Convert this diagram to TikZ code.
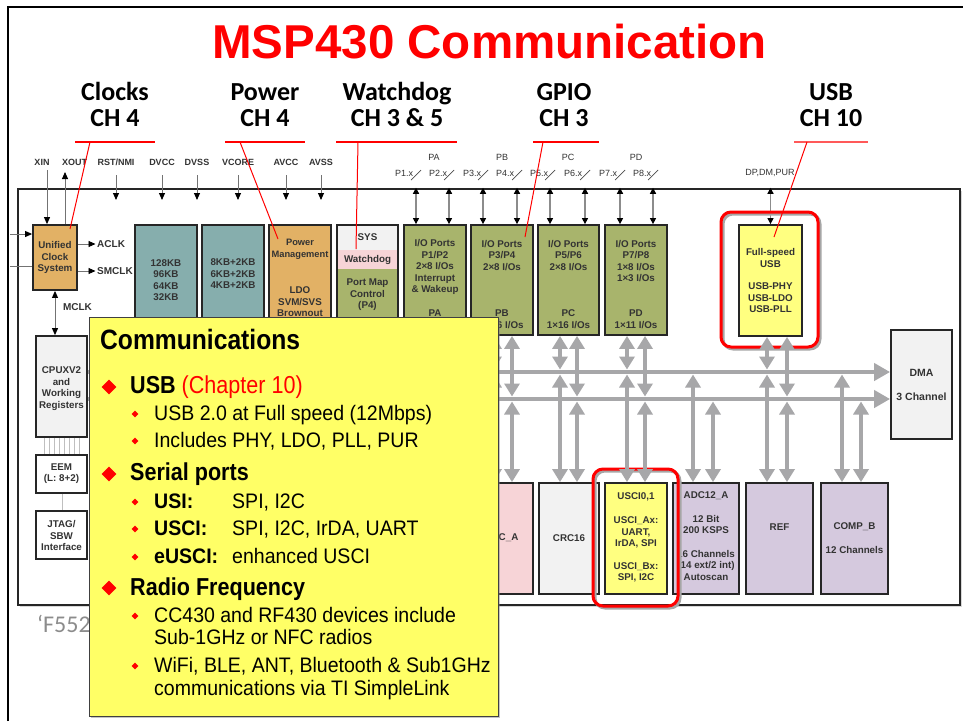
\documentclass[tikz,border=0pt]{standalone}
\usepackage{fontspec}
\setmainfont{Liberation Sans}
\newfontfamily\carl{Carlito}
\newfontfamily\narr[FakeStretch=0.93]{Liberation Sans}
\newfontfamily\narrh[FakeStretch=0.88]{Liberation Sans}
\usetikzlibrary{arrows.meta,fit,shadows,calc,shapes.geometric}
\definecolor{tealb}{HTML}{86AEAD}
\definecolor{orngb}{HTML}{E2B165}
\definecolor{oliveb}{HTML}{A8B46C}
\definecolor{ylwb}{HTML}{FFFF80}
\definecolor{lavb}{HTML}{D5C9DE}
\definecolor{pnkb}{HTML}{F7D4D7}
\definecolor{lgrayb}{HTML}{F2F2F2}
\definecolor{busgray}{HTML}{A7A7A9}
\definecolor{txtc}{HTML}{333333}
\definecolor{commy}{HTML}{FFFF66}
\definecolor{fgray}{HTML}{8C8C8C}
\newcommand\boxtxt{\fontsize{9.8}{11.5}\selectfont\bfseries}
\newcommand\commhead{\narrh\fontsize{24.5}{24.5}\selectfont\bfseries}
\newcommand\commsub{\narr\fontsize{21}{21}\selectfont}
\newcommand\vup[3]{\draw[busv] (#2.south -| #1,0) -- ($(#3 -| #1,0)+(0,-2.5)$);}
\newcommand\vdn[3]{\draw[busv] ($(#2 -| #1,0)+(0,2.5)$) -- (#3.north -| #1,0);}
\newcommand\pport[2]{\draw[portarr] (#2.north -| #1,0) -- (chip.north -| #1,0);
  \draw[black!70,line width=0.7pt] ($(#1,175)+(-5,5)$) -- ($(#1,175)+(5,-5)$);}
\begin{document}
\begin{tikzpicture}[x=1pt,y=-1pt,
  blk/.style={draw=black!85,line width=1.8pt,inner sep=0pt,drop shadow={shadow xshift=1.2pt,shadow yshift=-1.2pt,opacity=.25}},
  bt/.style={font=\boxtxt,text=txtc,align=center,inner sep=0pt},
  pinlbl/.style={font=\fontsize{9}{10}\selectfont\bfseries,text=txtc,inner sep=0pt},
  portlbl/.style={font=\fontsize{9}{10}\selectfont,text=txtc,inner sep=0pt},
  pinarr/.style={draw=black!55,line width=0.9pt,-{Triangle[length=7pt,width=6pt,color=black]}},
  dblarr/.style={draw=black!55,line width=0.9pt,{Triangle[length=7pt,width=6pt,color=black]}-{Triangle[length=7pt,width=6pt,color=black]}},
  portarr/.style={draw=black!45,line width=1.2pt,{Triangle[length=6pt,width=6pt,color=black]}-{Triangle[length=6pt,width=6pt,color=black]}},
  busv/.style={draw=busgray,line width=4.5pt,{Triangle[length=13pt,width=15pt]}-{Triangle[length=13pt,width=15pt]}},
  bush/.style={draw=busgray,line width=4.5pt,-{Triangle[length=16pt,width=17pt]}},
  chap/.style={font=\carl\fontsize{26}{26}\selectfont\bfseries,anchor=base,inner sep=0pt},
  redln/.style={draw=red,line width=1.3pt},
  redframe/.style={draw=red,line width=3pt,rounded corners=10pt,inner sep=0pt},
  rshadow/.style={draw=black!35,line width=3pt,rounded corners=10pt},
  bull/.style={diamond,fill=red,inner sep=0pt,minimum size=15pt},
  sbull/.style={diamond,fill=red,inner sep=0pt,minimum size=7pt},
  ch/.style={font=\commhead,anchor=base west,inner sep=0pt},
  cs/.style={font=\commsub,anchor=base west,inner sep=0pt},
]
\useasboundingbox (0,0) rectangle (963,721);
\fill[white] (0,0) rectangle (963,721);
\draw[line width=2pt] (8,721) -- (8,7) -- (963,7);

% title and chapter labels
\node[font=\fontsize{47.5}{47.5}\selectfont\bfseries,text=red,anchor=base,inner sep=0pt] (title) at (489.5,58) {MSP430 Communication};
\node[chap] (c1a) at (115,100) {Clocks};   \node[chap] (c1b) at (115,126) {CH 4};
\node[chap] (c2a) at (265,100) {Power};    \node[chap] (c2b) at (265,126) {CH 4};
\node[chap] (c3a) at (397,100) {Watchdog}; \node[chap] (c3b) at (397,126) {CH 3 \& 5};
\node[chap] (c4a) at (564,100) {GPIO};     \node[chap] (c4b) at (564,126) {CH 3};
\node[chap] (c5a) at (831,100) {USB};      \node[chap] (c5b) at (831,126) {CH 10};
\coordinate (u1l) at (75,142);  \coordinate (u1r) at (155,142);
\coordinate (u2l) at (225,142); \coordinate (u2r) at (305,142);
\coordinate (u3l) at (336,142); \coordinate (u3r) at (457,142);
\coordinate (u4l) at (533,142); \coordinate (u4r) at (599,142);
\coordinate (u5l) at (794,142); \coordinate (u5r) at (868,142);
\draw[redln] (u1l) -- (u1r);
\draw[redln] (u2l) -- (u2r);
\draw[redln] (u3l) -- (u3r);
\draw[redln] (u4l) -- (u4r);
\draw[draw=red!65,line width=2pt] (u5l) -- (u5r);

% chip outline
\node[fit={(18,189) (960,605)},draw=black!85,line width=2.5pt,fill=white,inner sep=0pt,drop shadow={shadow xshift=1.5pt,shadow yshift=-1.5pt,opacity=.3}] (chip) {};

% top pins
\node[pinlbl] (xin) at (42,162) {XIN};
\node[pinlbl] (xout) at (74.5,162) {XOUT};
\node[pinlbl] (rst) at (116,162) {RST/NMI};
\node[pinlbl] (dvcc) at (162,162) {DVCC};
\node[pinlbl] (dvss) at (197,162) {DVSS};
\node[pinlbl] (vcore) at (238,162) {VCORE};
\node[pinlbl] (avcc) at (286,162) {AVCC};
\node[pinlbl] (avss) at (321,162) {AVSS};
\foreach \n in {rst,dvcc,dvss,vcore,avcc,avss}
  \draw[pinarr] (\n.south |- 0,175) -- (\n.south |- 0,200);

% clock system
\node[blk,fill=orngb,fit={(33,225) (77,290)}] (ucs) {};
\node[bt] (ucst) at (55,257.5) {Unified\\Clock\\System};
\draw[pinarr] (47,170) -- (ucs.north -| 47,0);
\draw[pinarr] (ucs.north -| 65,0) -- (65,172);
\coordinate (lin1) at (10,234);
\coordinate (lin2) at (10,266);
\draw[pinarr] (lin1) -- (ucs.west |- lin1);
\draw[draw=black!55,line width=0.9pt] (lin2) -- (ucs.west |- lin2);
\node[pinlbl,font=\fontsize{10}{11}\selectfont\bfseries,anchor=west,inner sep=1.5pt] (aclk) at (95.5,244) {ACLK};
\node[pinlbl,font=\fontsize{10}{11}\selectfont\bfseries,anchor=west,inner sep=1.5pt] (smclk) at (95.5,271) {SMCLK};
\draw[pinarr] (ucs.east |- aclk) -- (aclk.west);
\draw[pinarr] (ucs.east |- smclk) -- (smclk.west);
\node[pinlbl,font=\fontsize{10}{11}\selectfont\bfseries] (mclk) at (77.5,307) {MCLK};

% memory, power, sys
\node[blk,fill=tealb,fit={(135,225) (197,330)}] (flash) {};
\node[bt] (flasht) at (166,280) {128KB\\96KB\\64KB\\32KB};
\node[blk,fill=tealb,fit={(202,225) (264,330)}] (ram) {};
\node[bt] (ramt) at (233,274) {8KB+2KB\\6KB+2KB\\4KB+2KB};
\node[blk,fill=orngb,fit={(269,225) (331,330)}] (pmm) {};
\node[bt,font=\fontsize{9.3}{11.5}\selectfont\bfseries] (pmmt1) at (300,249.5) {Power\\Management};
\node[bt] (pmmt2) at (300,302) {LDO\\SVM/SVS\\Brownout};
\node[blk,fill=oliveb,fit={(337,225) (398,330)}] (sys) {};
\fill[lgrayb] (337.9,225.9) rectangle (397.1,250);
\fill[pnkb] (337.9,250) rectangle (397.1,269);
\node[bt] (syst) at (367.5,237.5) {SYS};
\node[bt] (wdt) at (367.5,260) {Watchdog};
\node[bt] (pmt) at (367.5,295) {Port Map\\Control\\(P4)};

% I/O ports
\node[blk,fill=oliveb,fit={(404,225) (466,335)}] (p12) {};
\node[bt] (p12t) at (435,267) {I/O Ports\\P1/P2\\2×8 I/Os\\Interrupt\\\& Wakeup};
\node[bt] (p12b) at (435,319) {PA\\1×16 I/Os};
\node[blk,fill=oliveb,fit={(471,225) (533,335)}] (p34) {};
\node[bt] (p34t) at (502,255.5) {I/O Ports\\P3/P4\\2×8 I/Os};
\node[bt] (p34b) at (502,319) {PB\\1×16 I/Os};
\node[blk,fill=oliveb,fit={(538,225) (599,335)}] (p56) {};
\node[bt] (p56t) at (568.5,255.5) {I/O Ports\\P5/P6\\2×8 I/Os};
\node[bt] (p56b) at (568.5,319) {PC\\1×16 I/Os};
\node[blk,fill=oliveb,fit={(605,225) (667,335)}] (p78) {};
\node[bt] (p78t) at (636,261) {I/O Ports\\P7/P8\\1×8 I/Os\\1×3 I/Os};
\node[bt] (p78b) at (636,319) {PD\\1×11 I/Os};

\node[portlbl] (pa) at (434,157) {PA};
\node[portlbl] (pb) at (502,157) {PB};
\node[portlbl] (pc) at (568,157) {PC};
\node[portlbl] (pd) at (636,157) {PD};
\node[portlbl] (l1) at (404,173) {P1.x};
\node[portlbl] (l2) at (438,173) {P2.x};
\node[portlbl] (l3) at (472,173) {P3.x};
\node[portlbl] (l4) at (505,173) {P4.x};
\node[portlbl] (l5) at (539,173) {P5.x};
\node[portlbl] (l6) at (573,173) {P6.x};
\node[portlbl] (l7) at (608,173) {P7.x};
\node[portlbl] (l8) at (642,173) {P8.x};
\pport{416}{p12} \pport{449}{p12}
\pport{483}{p34} \pport{517}{p34}
\pport{550}{p56} \pport{585}{p56}
\pport{620}{p78} \pport{653}{p78}

% USB
\node[blk,fill=ylwb,fit={(739,225) (802,336)}] (usb) {};
\node[bt] (usbt1) at (770.5,258) {Full-speed\\USB};
\node[bt] (usbt2) at (770.5,298) {USB-PHY\\USB-LDO\\USB-PLL};
\node[portlbl] (dp) at (770,173) {DP,DM,PUR};
\draw[portarr] (usb.north) -- (chip.north -| usb.north);

% DMA
\node[blk,fill=lgrayb,fit={(891,330) (952,439)}] (dma) {};
\node[bt,font=\fontsize{10.5}{12}\selectfont\bfseries] (dmat1) at (921.5,373) {DMA};
\node[bt,font=\fontsize{10.5}{12}\selectfont\bfseries] (dmat2) at (921.5,397) {3 Channel};

% bottom peripherals
\node[blk,fill=pnkb,fit={(471,483) (533,594)}] (rtc) {};
\node[bt] (rtct) at (502,538) {RTC\_A};
\node[blk,fill=lgrayb,fit={(539,483) (599,594)}] (crc) {};
\node[bt] (crct) at (569,538) {CRC16};
\node[blk,fill=ylwb,fit={(605,483) (667,594)}] (usci) {};
\node[bt] (uscit1) at (636,497) {USCI0,1};
\node[bt] (uscit2) at (636,532.5) {USCI\_Ax:\\UART,\\IrDA, SPI};
\node[bt] (uscit3) at (636,572.5) {USCI\_Bx:\\SPI, I2C};
\node[blk,fill=lavb,fit={(673,483) (739,594)}] (adc) {};
\node[bt] (adct1) at (706,496) {ADC12\_A};
\node[bt] (adct2) at (706,524.5) {12 Bit\\200 KSPS};
\node[bt] (adct3) at (706,565) {16 Channels\\(14 ext/2 int)\\Autoscan};
\node[blk,fill=lavb,fit={(746,483) (813,594)}] (ref) {};
\node[bt] (reft) at (779.5,527) {REF};
\node[blk,fill=lavb,fit={(821,483) (888,594)}] (comp) {};
\node[bt] (compt1) at (854.5,527) {COMP\_B};
\node[bt] (compt2) at (854.5,550) {12 Channels};

% CPU column
\node[blk,fill=lgrayb,fit={(36,336) (87,437)}] (cpu) {};
\node[bt] (cput) at (61.5,388.5) {CPUXV2\\and\\Working\\Registers};
\node[blk,fill=white,fit={(36,455) (87,493)}] (eem) {};
\node[bt] (eemt) at (61.5,473.5) {EEM\\(L: 8+2)};
\node[blk,fill=white,fit={(36,511) (87,559)}] (jtag) {};
\node[bt] (jtagt) at (61.5,535.5) {JTAG/\\SBW\\Interface};
\foreach \x in {44,49,54,59,64,69,74,79}
  \draw[black!25,line width=0.8pt] (cpu.south -| \x,0) -- (eem.north -| \x,0);
\draw[black!25,line width=0.8pt] (eem.south -| 62,0) -- (jtag.north -| 62,0);
\draw[dblarr] (ucs.south) -- (cpu.north -| ucs.south);

% red frames
\draw[rshadow] (723,214) rectangle (820,349);
\node[redframe,fit={(721,212) (818,347)}] (usbfr) {};
\draw[rshadow] (595,471) rectangle (680,608);
\node[redframe,fit={(593,469) (678,606)}] (uscifr) {};

% buses
\coordinate (bus1) at (0,372);
\coordinate (bus2) at (0,399);
\draw[bush] (cpu.east |- bus1) -- (dma.west |- bus1);
\draw[bush] (cpu.east |- bus2) -- (dma.west |- bus2);
\vup{494}{p34}{bus1} \vdn{494}{bus1}{rtc}
\vup{512}{p34}{bus2} \vdn{512}{bus2}{rtc}
\vup{560}{p56}{bus1} \vdn{560}{bus1}{crc}
\vup{577}{p56}{bus2} \vdn{577}{bus2}{crc}
\vup{627}{p78}{bus1} \vdn{627}{bus1}{usci}
\vup{645}{p78}{bus2} \vdn{645}{bus2}{usci}
\vdn{693}{bus1}{adc}
\vdn{713}{bus2}{adc}
\vup{767}{usb}{bus1} \vdn{767}{bus1}{ref}
\vup{787}{usb}{bus2} \vdn{787}{bus2}{ref}
\vdn{842}{bus1}{comp}
\vdn{861}{bus2}{comp}

% part number
\node[font=\carl\fontsize{24}{24}\selectfont,text=fgray,anchor=base west,inner sep=0pt] (fpart) at (37,632) {‘F552};

% communications box
\node[fit={(89,317) (498,716)},fill=commy,draw=black!75,line width=0.8pt,inner sep=0pt,drop shadow={shadow xshift=2pt,shadow yshift=-2pt,opacity=.45}] (comm) {};
\node[font=\narrh\fontsize{28}{28}\selectfont\bfseries,anchor=base west,inner sep=0pt] (ctitle) at (100,349) {Communications};
\node[bull] (b1) at (109,387) {};
\node[ch] (h1) at (130,393) {USB \textcolor{red}{\mdseries(Chapter 10)}};
\node[sbull] (s1) at (135,414) {};
\node[cs] (t1) at (154,420) {USB 2.0 at Full speed (12Mbps)};
\node[sbull] (s2) at (135,441) {};
\node[cs] (t2) at (154,447) {Includes PHY, LDO, PLL, PUR};
\node[bull] (b2) at (109,474) {};
\node[ch] (h2) at (130,480) {Serial ports};
\node[sbull] (s3) at (135,502) {};
\node[cs] (t3) at (154,508) {\bfseries USI:};
\node[cs] (t3b) at (232,508) {SPI, I2C};
\node[sbull] (s4) at (135,529) {};
\node[cs] (t4) at (154,535) {\bfseries USCI:};
\node[cs] (t4b) at (232,535) {SPI, I2C, IrDA, UART};
\node[sbull] (s5) at (135,557) {};
\node[cs] (t5) at (154,563) {\bfseries eUSCI:};
\node[cs] (t5b) at (232,563) {enhanced USCI};
\node[bull] (b3) at (109,588) {};
\node[ch] (h3) at (130,595) {Radio Frequency};
\node[sbull] (s6) at (135,616) {};
\node[cs] (t6) at (154,622) {CC430 and RF430 devices include};
\node[cs] (t6b) at (154,644) {Sub-1GHz or NFC radios};
\node[sbull] (s7) at (135,666) {};
\node[cs] (t7) at (154,672) {WiFi, BLE, ANT, Bluetooth \& Sub1GHz};
\node[cs] (t7b) at (154,695) {communications via TI SimpleLink};

% red pointers
\coordinate (q1) at (90,142);  \coordinate (e1) at (70,229);
\coordinate (q2) at (240,142); \coordinate (e2) at (278,239);
\coordinate (q3) at (358,142); \coordinate (e3) at (356,249);
\coordinate (q4) at (543,142); \coordinate (e4) at (525,237);
\coordinate (q5) at (807,142); \coordinate (e5) at (774,237);
\draw[redln,line width=1pt] (q1) -- (e1);
\draw[redln,line width=1pt] (q2) -- (e2);
\draw[redln,line width=1pt] (q3) -- (e3);
\draw[redln,line width=1pt] (q4) -- (e4);
\draw[redln,line width=1pt] (q5) -- (e5);
\end{tikzpicture}
\end{document}
